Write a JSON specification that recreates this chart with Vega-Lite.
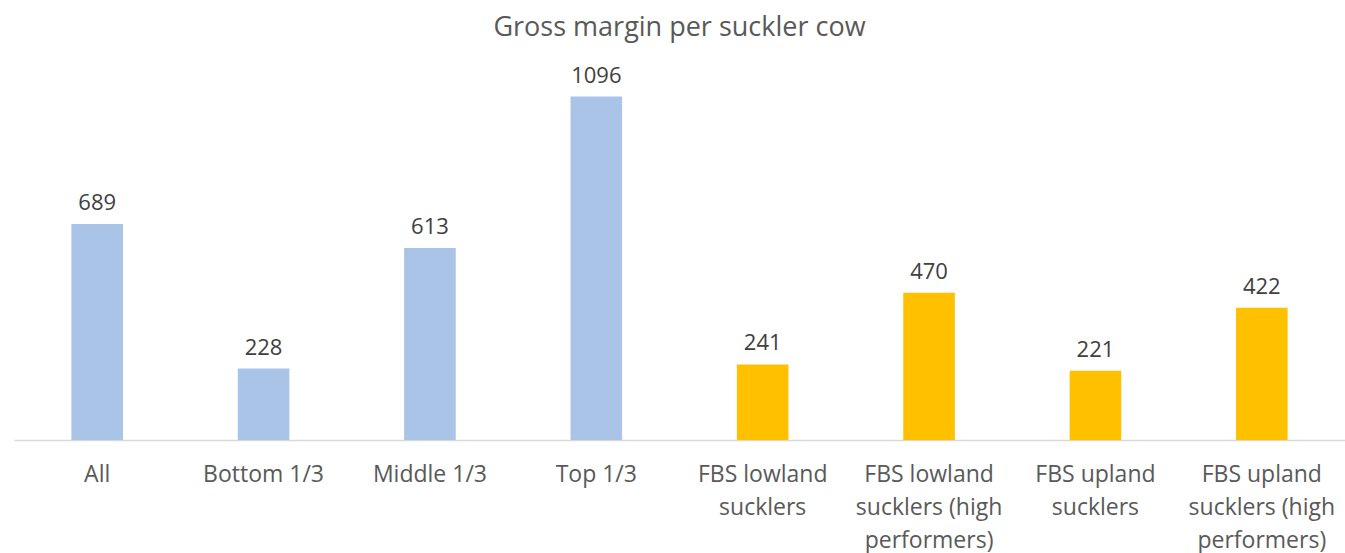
{
  "$schema": "https://vega.github.io/schema/vega-lite/v6.json",
  "autosize": "none",
  "width": 1331,
  "height": 376,
  "padding": {"left": 14, "top": 64, "right": 0, "bottom": 113},
  "background": "white",
  "title": {
    "text": "Gross margin per suckler cow",
    "font": "Open Sans",
    "fontSize": 27,
    "fontWeight": "normal",
    "color": "#595959",
    "anchor": "middle",
    "offset": 22
  },
  "data": {
    "values": [
      {"category": "All", "group": "Sample", "value": 689},
      {"category": "Bottom 1/3", "group": "Sample", "value": 228},
      {"category": "Middle 1/3", "group": "Sample", "value": 613},
      {"category": "Top 1/3", "group": "Sample", "value": 1096},
      {"category": "FBS lowland sucklers", "group": "FBS", "value": 241},
      {"category": "FBS lowland sucklers (high performers)", "group": "FBS", "value": 470},
      {"category": "FBS upland sucklers", "group": "FBS", "value": 221},
      {"category": "FBS upland sucklers (high performers)", "group": "FBS", "value": 422}
    ]
  },
  "encoding": {
    "x": {
      "field": "category",
      "type": "nominal",
      "sort": null,
      "scale": {"paddingInner": 0.69, "paddingOuter": 0.345},
      "axis": {
        "title": null,
        "labelAngle": 0,
        "ticks": false,
        "domainColor": "#d9d9d9",
        "domainWidth": 1.5,
        "labelFont": "Open Sans",
        "labelFontSize": 23,
        "labelColor": "#595959",
        "labelPadding": 34,
        "labelLineHeight": 33,
        "labelBaseline": "middle",
        "labelExpr": "datum.value == 'FBS lowland sucklers' ? ['FBS lowland', 'sucklers'] : datum.value == 'FBS lowland sucklers (high performers)' ? ['FBS lowland', 'sucklers (high', 'performers)'] : datum.value == 'FBS upland sucklers' ? ['FBS upland', 'sucklers'] : datum.value == 'FBS upland sucklers (high performers)' ? ['FBS upland', 'sucklers (high', 'performers)'] : datum.value"
      }
    },
    "y": {
      "field": "value",
      "type": "quantitative",
      "scale": {"domain": [0, 1200], "nice": false},
      "axis": null
    }
  },
  "layer": [
    {
      "mark": {"type": "bar"},
      "encoding": {
        "color": {
          "field": "group",
          "type": "nominal",
          "scale": {"domain": ["Sample", "FBS"], "range": ["#A9C4E6", "#FFC000"]},
          "legend": null
        }
      }
    },
    {
      "mark": {"type": "text", "baseline": "bottom", "dy": -9, "font": "Open Sans", "fontSize": 22, "color": "#404040"},
      "encoding": {"text": {"field": "value", "type": "quantitative"}}
    }
  ],
  "config": {"view": {"stroke": null}}
}
